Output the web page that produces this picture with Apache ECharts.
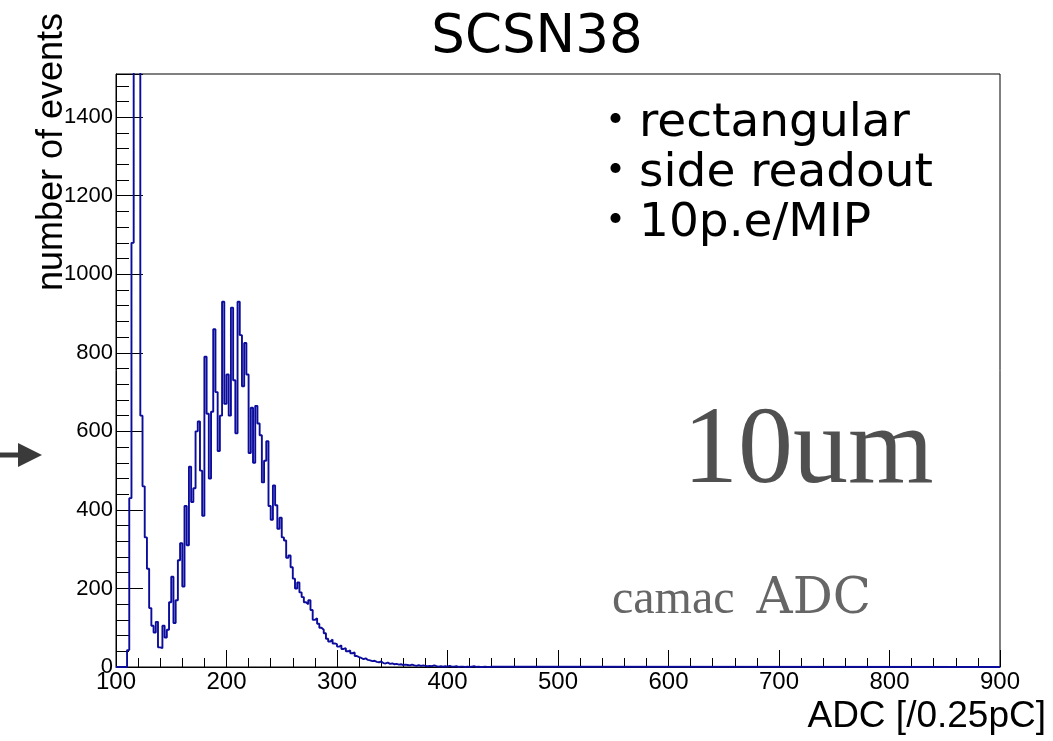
<!DOCTYPE html>
<html><head><meta charset="utf-8">
<script src="https://cdn.jsdelivr.net/npm/echarts@6/dist/echarts.min.js"></script>
<style>html,body{margin:0;padding:0;background:#fff}#c{width:1053px;height:741px}</style>
</head><body><div id="c"></div>
<script>
// Histogram: ADC counts, bins of 2 ADC units starting at 100
const binStart = 100;
const binWidth = 2;
const counts = [
  0, 0, 0, 0, 0, 43, 430, 1080, 2600, 4200,          // 100-118
  3800, 640, 460, 330, 250, 150, 105, 88, 115, 50,   // 120-138
  48, 105, 75, 95, 165, 230, 112, 170, 272, 315,     // 140-158
  205, 410, 310, 510, 420, 455, 600, 625, 500, 385,  // 160-178
  790, 645, 480, 650, 860, 700, 550, 640, 930, 670,  // 180-198
  745, 640, 915, 730, 595, 930, 845, 715, 825, 745,  // 200-218
  545, 660, 520, 665, 620, 590, 470, 525, 575, 410,  // 220-238
  375, 462, 412, 352, 380, 330, 322, 278, 284, 254,  // 240-258
  225, 200, 215, 190, 178, 165, 160, 170, 145, 120,  // 260-278
  124, 110, 100, 95, 86, 72, 65, 70, 60, 58,         // 280-298
  52, 55, 46, 48, 40, 42, 35, 37, 28, 25,            // 300-318
  23, 20, 22, 18, 17, 15, 16, 13, 12, 14,            // 320-338
  10, 9, 11, 8, 9, 7, 8, 6, 7, 5,                    // 340-358
  6, 5, 4, 6, 4, 3, 5, 3, 4, 3,                      // 360-378
  2, 3, 2, 4, 2, 1, 2, 1, 2, 1,                      // 380-398
  3, 1, 1, 2, 0, 1, 1, 0, 1, 0,                      // 400-418
  1, 2, 0, 1, 0, 0, 1, 0, 0, 1,                      // 420-438
  0                                                  // 440
];
const xRange = [100, 900];
const yRange = [0, 1510];
const xTickLabels = ['100','200','300','400','500','600','700','800','900'];
const yTickLabels = ['0','200','400','600','800','1000','1200','1400'];

const data = counts.map((c, i) => [binStart + i * binWidth, c]);
data.push([xRange[1], 0]);

const chart = echarts.init(document.getElementById('c'), null, {renderer: 'canvas'});
const labelFont = 'Liberation Sans, Arial, sans-serif';
chart.setOption({
  animation: false,
  backgroundColor: '#ffffff',
  grid: {left: 116, right: 53, top: 74, bottom: 74, show: true, borderColor: '#000', borderWidth: 1, backgroundColor: 'transparent'},
  xAxis: {
    type: 'value', min: xRange[0], max: xRange[1], interval: 100,
    axisLine: {show: true, onZero: false, lineStyle: {color: '#000', width: 1}},
    axisTick: {show: true, inside: true, length: 17, lineStyle: {color: '#000', width: 1}},
    minorTick: {show: true, splitNumber: 5, length: 9, lineStyle: {color: '#000', width: 1}},
    splitLine: {show: false},
    axisLabel: {
      margin: 3, fontSize: 24, color: '#000', fontFamily: labelFont,
      formatter: v => xTickLabels.includes(String(v)) ? String(v) : ''
    }
  },
  yAxis: {
    type: 'value', min: yRange[0], max: yRange[1], interval: 200,
    axisLine: {show: true, lineStyle: {color: '#000', width: 1}},
    axisTick: {show: true, inside: true, length: 27, lineStyle: {color: '#000', width: 1}},
    minorTick: {show: true, splitNumber: 5, length: 13, lineStyle: {color: '#000', width: 1}},
    splitLine: {show: false},
    axisLabel: {
      margin: 3, fontSize: 22, color: '#000', fontFamily: labelFont, showMaxLabel: false,
      formatter: v => yTickLabels.includes(String(v)) ? String(v) : ''
    }
  },
  series: [{
    type: 'line', step: 'end', data: data, symbol: 'none', clip: true,
    lineStyle: {color: '#0c0c9c', width: 1.9}
  }],
  graphic: [
    {type: 'text', x: 537, y: 38, style: {text: 'SCSN38', font: '53px "DejaVu Sans", sans-serif', fill: '#000', textAlign: 'center', textVerticalAlign: 'middle'}},
    {type: 'text', x: 52, y: 152, rotation: Math.PI / 2, style: {text: 'number of events', font: '36px "Liberation Sans", Arial, sans-serif', fill: '#000', textAlign: 'center', textVerticalAlign: 'middle'}},
    {type: 'text', x: 1046, y: 717, style: {text: 'ADC [/0.25pC]', font: '37px "Liberation Sans", Arial, sans-serif', fill: '#000', textAlign: 'right', textVerticalAlign: 'middle'}},
    {type: 'text', x: 592, y: 124, style: {text: '・rectangular', font: '47px "DejaVu Sans", "Noto Sans CJK JP", sans-serif', fill: '#000', textAlign: 'left', textVerticalAlign: 'middle'}},
    {type: 'text', x: 592, y: 174, style: {text: '・side readout', font: '47px "DejaVu Sans", "Noto Sans CJK JP", sans-serif', fill: '#000', textAlign: 'left', textVerticalAlign: 'middle'}},
    {type: 'text', x: 592, y: 224, style: {text: '・10p.e/MIP', font: '47px "DejaVu Sans", "Noto Sans CJK JP", sans-serif', fill: '#000', textAlign: 'left', textVerticalAlign: 'middle'}},
    {type: 'text', x: 683, y: 453, style: {text: '10um', font: '110px "Liberation Serif", "Times New Roman", serif', fill: '#505050', textAlign: 'left', textVerticalAlign: 'middle'}},
    {type: 'text', x: 612, y: 600, style: {
      text: '{a|camac}{s|}{b|ADC}', fill: '#666666', textAlign: 'left', textVerticalAlign: 'middle',
      rich: {
        a: {fontSize: 48, fontFamily: '"Liberation Serif", serif', fill: '#666666', color: '#666666'},
        s: {width: 22, fontSize: 48},
        b: {fontSize: 50, fontFamily: '"DejaVu Serif", "Liberation Serif", serif', fill: '#666666', color: '#666666'}
      }
    }},
    {type: 'line', shape: {x1: 0, y1: 455, x2: 22, y2: 455}, style: {stroke: '#3a3a3a', lineWidth: 5}},
    {type: 'polygon', shape: {points: [[18, 443], [42, 455], [18, 467]]}, style: {fill: '#3a3a3a'}}
  ]
});
</script>
</body></html>
